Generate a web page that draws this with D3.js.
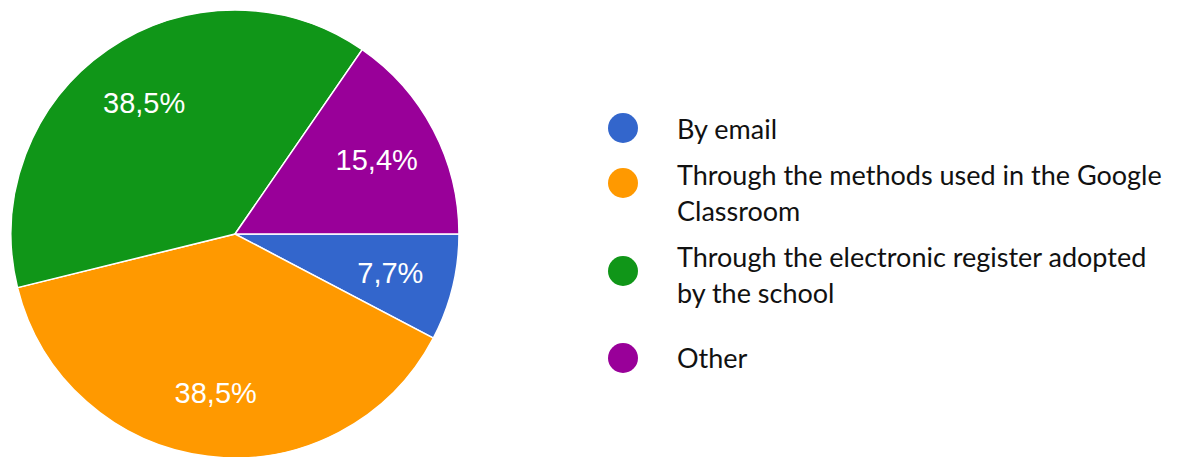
<!DOCTYPE html>
<html>
<head>
<meta charset="utf-8">
<script src="https://cdn.jsdelivr.net/npm/d3@7"></script>
<style>
  html, body { margin: 0; padding: 0; background: #fff; }
  svg { display: block; }
</style>
</head>
<body>
<svg id="chart" width="1177" height="457"></svg>
<script>
const categories = [
  "By email",
  "Through the methods used in the Google Classroom",
  "Through the electronic register adopted by the school",
  "Other"
];
const legendLines = [
  ["By email"],
  ["Through the methods used in the Google", "Classroom"],
  ["Through the electronic register adopted", "by the school"],
  ["Other"]
];
const values = [7.7, 38.5, 38.5, 15.4];
const valueLabels = ["7,7%", "38,5%", "38,5%", "15,4%"];
const colors = ["#3366cc", "#ff9900", "#109618", "#990099"];

const svg = d3.select("#chart");
const cx = 235, cy = 234, r = 224;

const pie = d3.pie().sort(null).value(d => d)
  .startAngle(Math.PI / 2).endAngle(Math.PI / 2 + 2 * Math.PI);
const arcs = pie(values);
const arc = d3.arc().innerRadius(0).outerRadius(r);
const labelArc = d3.arc().innerRadius(160).outerRadius(160);

const g = svg.append("g").attr("transform", `translate(${cx},${cy})`);
g.selectAll("path").data(arcs).join("path")
  .attr("d", arc)
  .attr("fill", (d, i) => colors[i])
  .attr("stroke", "#fff")
  .attr("stroke-width", 1.5);

g.selectAll("text").data(arcs).join("text")
  .attr("transform", d => `translate(${labelArc.centroid(d)})`)
  .attr("text-anchor", "middle")
  .attr("dy", "0.36em")
  .attr("fill", "#ffffff")
  .style("font-family", "'Liberation Sans', Arial, sans-serif")
  .style("font-size", "29px")
  .text((d, i) => valueLabels[i]);

// Legend
const legendY = d3.scaleOrdinal().domain(categories).range([128, 183, 271, 358]);
const lg = svg.append("g");
const items = lg.selectAll("g").data(categories).join("g")
  .attr("transform", d => `translate(0,${legendY(d)})`);
items.append("circle")
  .attr("cx", 623).attr("cy", 0).attr("r", 15)
  .attr("fill", (d, i) => colors[i]);
const firstBaseline = [11, 2, -4, 10];
items.each(function(d, i) {
  const t = d3.select(this).append("text")
    .attr("x", 677)
    .attr("y", firstBaseline[i])
    .attr("fill", "#111")
    .style("font-family", "Lato, 'Open Sans', sans-serif")
    .style("font-size", "27px");
  legendLines[i].forEach((line, j) => {
    t.append("tspan").attr("x", 677).attr("dy", j === 0 ? 0 : 36).text(line);
  });
});
</script>
</body>
</html>
